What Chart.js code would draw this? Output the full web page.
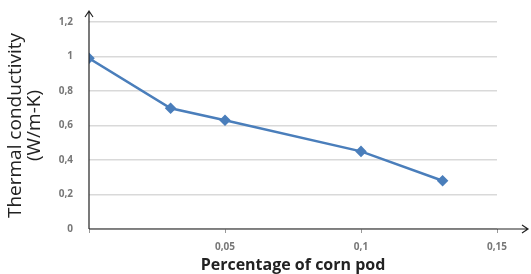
<!DOCTYPE html>
<html>
<head>
<meta charset="utf-8">
<script src="https://cdn.jsdelivr.net/npm/chart.js@4"></script>
<style>
  html, body { margin: 0; padding: 0; background: #fff; }
  #wrap { width: 531px; height: 274px; position: relative; }
</style>
</head>
<body>
<div id="wrap"><canvas id="chart"></canvas></div>
<script>
const cornPod = [0, 0.03, 0.05, 0.1, 0.13];
const conductivity = [0.99, 0.70, 0.63, 0.45, 0.28];
const xTicks = [0, 0.05, 0.1, 0.15];
const xTickLabels = ['', '0,05', '0,1', '0,15'];
const yTicks = [0, 0.2, 0.4, 0.6, 0.8, 1, 1.2];
const yTickLabels = ['0', '0,2', '0,4', '0,6', '0,8', '1', '1,2'];

const lineColor = '#4a7ebb';

// arrows on both axes, like the original
const axisArrows = {
  id: 'axisArrows',
  afterDraw(chart) {
    const { ctx, chartArea } = chart;
    const x0 = chart.scales.x.getPixelForValue(0);
    const y0 = chart.scales.y.getPixelForValue(0);
    ctx.save();
    ctx.strokeStyle = '#222';
    ctx.lineWidth = 1.2;
    ctx.beginPath();
    ctx.moveTo(x0, y0);
    ctx.lineTo(x0, chartArea.top - 11);
    ctx.moveTo(x0 - 4, chartArea.top - 5);
    ctx.lineTo(x0, chartArea.top - 11);
    ctx.lineTo(x0 + 4, chartArea.top - 5);
    ctx.moveTo(x0, y0);
    ctx.lineTo(chartArea.right + 31, y0);
    ctx.moveTo(chartArea.right + 25, y0 - 4);
    ctx.lineTo(chartArea.right + 31, y0);
    ctx.lineTo(chartArea.right + 25, y0 + 4);
    ctx.stroke();
    ctx.restore();
  }
};

new Chart(document.getElementById('chart'), {
  type: 'line',
  data: {
    datasets: [{
      data: cornPod.map((x, i) => ({ x, y: conductivity[i] })),
      borderColor: lineColor,
      backgroundColor: lineColor,
      borderWidth: 2.5,
      pointStyle: 'rectRot',
      pointRadius: 4,
      tension: 0,
    }],
  },
  options: {
    responsive: true,
    maintainAspectRatio: false,
    animation: false,
    layout: { padding: { top: 21, right: 34, bottom: 0, left: 0 } },
    plugins: {
      legend: { display: false },
      tooltip: { enabled: false },
    },
    scales: {
      x: {
        type: 'linear',
        min: 0,
        max: 0.15,
        afterBuildTicks: (s) => { s.ticks = xTicks.map((v) => ({ value: v })); },
        afterFit: (s) => { s.height = 45; },
        ticks: {
          callback: (v) => xTickLabels[xTicks.indexOf(v)],
          color: '#777',
          font: { family: 'Open Sans', size: 10, weight: 'bold' },
          padding: 8,
          maxRotation: 0,
        },
        grid: { drawOnChartArea: false, drawTicks: true, tickLength: 4, color: '#999' },
        border: { display: false },
        title: {
          display: true,
          text: 'Percentage of corn pod',
          color: '#222',
          font: { family: 'Open Sans', size: 16, weight: 'bold', lineHeight: 1.1 },
          padding: { top: 0, bottom: 0 },
        },
      },
      y: {
        min: 0,
        max: 1.2,
        afterBuildTicks: (s) => { s.ticks = yTicks.map((v) => ({ value: v })); },
        afterFit: (s) => { s.width = 89; },
        ticks: {
          callback: (v) => yTickLabels[yTicks.indexOf(v)],
          color: '#777',
          font: { family: 'Open Sans', size: 10, weight: 'bold' },
          padding: 16,
        },
        grid: { color: '#d9d9d9', lineWidth: 1.5, drawTicks: false },
        border: { display: false },
        title: {
          display: true,
          text: ['Thermal conductivity', '(W/m-K)'],
          color: '#222',
          font: { family: 'Open Sans', size: 19, lineHeight: 1.0 },
          padding: { top: 6, bottom: 0 },
        },
      },
    },
  },
  plugins: [axisArrows],
});
</script>
</body>
</html>
